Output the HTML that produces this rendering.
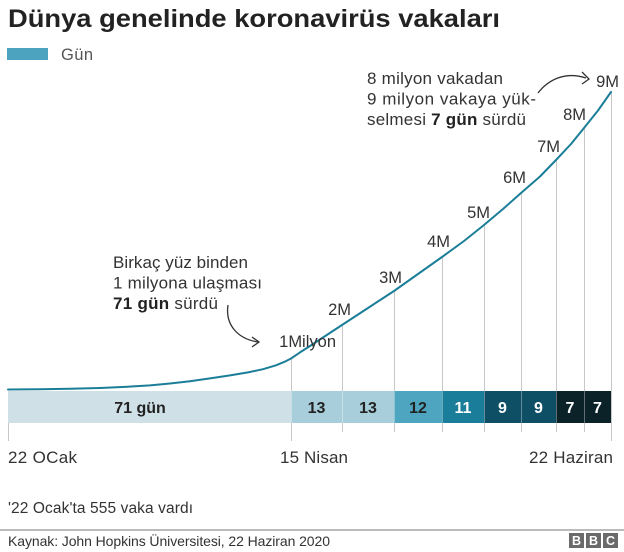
<!DOCTYPE html>
<html><head><meta charset="utf-8"><style>
html,body{margin:0;padding:0;background:#fff;}
svg{display:block;}
text{font-family:"Liberation Sans",Arial,sans-serif;}
</style></head><body>
<svg width="624" height="552" viewBox="0 0 624 552" xmlns="http://www.w3.org/2000/svg">
<rect width="624" height="552" fill="#fff"/>
<!-- title -->
<text x="8" y="27" font-size="25" font-weight="bold" fill="#222" textLength="492" lengthAdjust="spacingAndGlyphs">Dünya genelinde koronavirüs vakaları</text>
<!-- legend -->
<rect x="7" y="48" width="41" height="12" fill="#4ba3bf"/>
<text x="61" y="60" font-size="16.5" fill="#555" textLength="32">Gün</text>

<!-- gridlines -->
<g stroke="#c8c8c8" stroke-width="1">
<line x1="8.5" y1="423" x2="8.5" y2="441"/>
<line x1="291.5" y1="359" x2="291.5" y2="441"/>
<line x1="342.5" y1="325" x2="342.5" y2="432"/>
<line x1="394.5" y1="291" x2="394.5" y2="432"/>
<line x1="442.5" y1="257" x2="442.5" y2="432"/>
<line x1="484.5" y1="225" x2="484.5" y2="432"/>
<line x1="521.5" y1="193" x2="521.5" y2="432"/>
<line x1="556.5" y1="160" x2="556.5" y2="432"/>
<line x1="584.5" y1="128" x2="584.5" y2="432"/>
<line x1="611.5" y1="92" x2="611.5" y2="441"/>
</g>

<!-- bar -->
<rect x="8" y="391" width="283" height="32" fill="#cfe0e6"/>
<rect x="291" y="391" width="51" height="32" fill="#a8cedb"/>
<rect x="342" y="391" width="52" height="32" fill="#a8cedb"/>
<rect x="394" y="391" width="48" height="32" fill="#4ea5c0"/>
<rect x="442" y="391" width="42" height="32" fill="#1a7d99"/>
<rect x="484" y="391" width="37" height="32" fill="#0e4f66"/>
<rect x="521" y="391" width="35" height="32" fill="#0e4f66"/>
<rect x="556" y="391" width="28" height="32" fill="#0b2229"/>
<rect x="584" y="391" width="27" height="32" fill="#0b2229"/>
<g stroke="rgba(255,255,255,0.35)" stroke-width="1">
<line x1="291.5" y1="391" x2="291.5" y2="423"/>
<line x1="342.5" y1="391" x2="342.5" y2="423"/>
<line x1="394.5" y1="391" x2="394.5" y2="423"/>
<line x1="442.5" y1="391" x2="442.5" y2="423"/>
<line x1="484.5" y1="391" x2="484.5" y2="423"/>
<line x1="521.5" y1="391" x2="521.5" y2="423"/>
<line x1="556.5" y1="391" x2="556.5" y2="423"/>
<line x1="584.5" y1="391" x2="584.5" y2="423"/>
</g>
<g font-size="16" font-weight="bold" text-anchor="middle">
<text x="140" y="413" fill="#222">71 gün</text>
<text x="316.5" y="413" fill="#222">13</text>
<text x="368" y="413" fill="#222">13</text>
<text x="418" y="413" fill="#222">12</text>
<text x="463" y="413" fill="#fff">11</text>
<text x="502.5" y="413" fill="#fff">9</text>
<text x="538.5" y="413" fill="#fff">9</text>
<text x="570" y="413" fill="#fff">7</text>
<text x="597.5" y="413" fill="#fff">7</text>
</g>

<!-- curve -->
<polyline fill="none" stroke="#1b7e98" stroke-width="2" stroke-linejoin="round" stroke-linecap="round"
points="8,389.5 40,389.3 70,388.8 100,388 125,386.9 150,385.4 170,383.5 190,381.2 210,378.4 230,375.4 248,372.4 263,369.2 276,365.3 285,361.6 291,358.5 300,352.4 310,346 326,335.5 342,325 368,308 394,291 418,274 442,257 464,241 484,225 503,209 521,193 540,176.5 556,160 571,144 584,128 598,110.5 611,92"/>

<!-- value labels -->
<g font-size="16.5" fill="#333" text-anchor="end">
<text x="336" y="347">1Milyon</text>
<text x="351" y="315">2M</text>
<text x="402" y="283">3M</text>
<text x="450" y="247">4M</text>
<text x="490" y="218">5M</text>
<text x="526" y="183">6M</text>
<text x="560" y="152">7M</text>
<text x="586" y="120">8M</text>
<text x="619" y="87">9M</text>
</g>

<!-- left annotation -->
<g font-size="17" fill="#333">
<text x="113" y="268" textLength="135">Birkaç yüz binden</text>
<text x="113" y="288.5" textLength="149">1 milyona ulaşması</text>
<text x="113" y="309" textLength="105"><tspan font-weight="bold" fill="#222">71 gün</tspan> sürdü</text>
</g>
<path d="M228,305 C225,325 238,339 258,342" fill="none" stroke="#333" stroke-width="1.3"/>
<path d="M252,337 L259,342 L252,347" fill="none" stroke="#333" stroke-width="1.3"/>

<!-- right annotation -->
<g font-size="17" fill="#333">
<text x="367" y="84" textLength="136">8 milyon vakadan</text>
<text x="367" y="104.5" textLength="169">9 milyon vakaya yük-</text>
<text x="367" y="125" textLength="159">selmesi <tspan font-weight="bold" fill="#222">7 gün</tspan> sürdü</text>
</g>
<path d="M538,93 C548,80 565,71 586,78" fill="none" stroke="#333" stroke-width="1.3"/>
<path d="M582,72 L589,79 L582,84" fill="none" stroke="#333" stroke-width="1.3"/>

<!-- x labels -->
<g font-size="17" fill="#333">
<text x="8" y="463" textLength="69">22 OCak</text>
<text x="280" y="463" textLength="68">15 Nisan</text>
<text x="529" y="463" textLength="84">22 Haziran</text>
</g>

<!-- footnote -->
<text x="8" y="513" font-size="15.5" fill="#333" textLength="185">'22 Ocak'ta 555 vaka vardı</text>
<rect x="0" y="529" width="624" height="2" fill="#bbb"/>
<text x="8" y="546" font-size="14" fill="#333" textLength="322">Kaynak: John Hopkins Üniversitesi, 22 Haziran 2020</text>

<!-- BBC logo -->
<rect x="569" y="533" width="15" height="15" fill="#6a6a6a"/>
<rect x="586" y="533" width="15" height="15" fill="#6a6a6a"/>
<rect x="603" y="533" width="15" height="15" fill="#6a6a6a"/>
<g font-size="12.5" font-weight="bold" fill="#fff" text-anchor="middle">
<text x="576.5" y="545">B</text>
<text x="593.5" y="545">B</text>
<text x="610.5" y="545">C</text>
</g>
</svg>
</body></html>
